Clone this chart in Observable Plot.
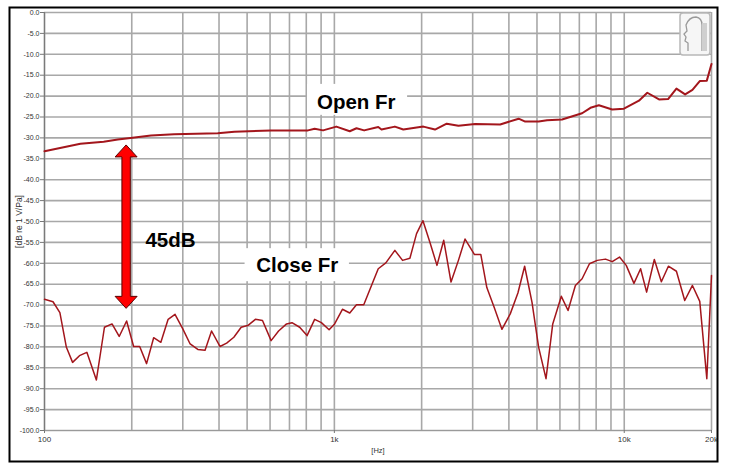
<!DOCTYPE html>
<html>
<head>
<meta charset="utf-8">
<script src="https://cdn.jsdelivr.net/npm/d3@7"></script>
<script src="https://cdn.jsdelivr.net/npm/@observablehq/plot@0.6"></script>
<style>
  html, body { margin: 0; padding: 0; background: #fff; }
  #chart { width: 731px; height: 470px; }
</style>
</head>
<body>
<div id="chart"></div>
<script>
// ---- Data ----
const openFreq = [100,133,160,179,198,233,280,396,452,605,811,855,914,1016,1130,1192,1267,1417,1454,1617,1729,2028,2224,2441,2679,3059,3733,4321,4555,5067,5416,6102,7155,7647,8176,9089,9977,11240,12010,13183,14166,15136,16220,17190,18220,19270,20000];
const openDb   = [-33.2,-31.4,-30.9,-30.4,-30.0,-29.4,-29.1,-28.9,-28.5,-28.2,-28.2,-27.8,-28.2,-27.3,-28.4,-27.7,-28.2,-27.4,-28.0,-27.3,-28.0,-27.3,-28.0,-26.6,-27.1,-26.7,-26.8,-25.4,-26.1,-26.1,-25.8,-25.6,-24.1,-22.8,-22.2,-23.2,-23.0,-21.1,-19.2,-20.8,-20.7,-18.2,-19.6,-18.5,-16.4,-16.3,-12.3];

const closeFreq = [100,107,113,119,125,132,140,151,161,171,181,192,203,213,225,238,252,267,282,300,318,338,358,377,403,425,450,477,505,534,565,605,642,684,714,759,805,855,902,959,1002,1066,1130,1192,1263,1343,1417,1505,1617,1719,1822,1921,2021,2137,2259,2384,2526,2679,2824,3044,3201,3357,3558,3784,4043,4297,4533,4805,5067,5372,5667,6067,6400,6784,7155,7586,8066,8616,9089,9632,10160,10803,11387,11946,12700,13430,14200,15136,16170,17190,18220,19270,20000];
const closeDb   = [-68.6,-69.2,-71.8,-80.1,-83.7,-82.1,-81.3,-87.9,-75.3,-74.5,-77.5,-73.8,-79.9,-79.9,-84.0,-77.8,-78.9,-73.4,-72.2,-75.7,-79.3,-80.6,-80.8,-76.2,-79.9,-79.1,-77.7,-75.3,-74.8,-73.4,-73.7,-78.5,-76.2,-74.5,-74.2,-75.3,-77.3,-73.4,-74.2,-75.9,-74.5,-71.0,-71.9,-69.9,-69.9,-65.3,-61.3,-59.9,-56.9,-59.3,-58.8,-52.9,-49.8,-55.0,-60.5,-54.5,-64.5,-59.3,-54.2,-57.9,-57.9,-65.8,-70.5,-75.8,-72.1,-67.1,-60.7,-69.3,-80.1,-87.6,-74.5,-67.9,-71.3,-65.3,-63.7,-60.1,-59.3,-59.0,-59.6,-58.5,-60.5,-64.8,-61.3,-66.9,-59.1,-64.4,-60.7,-61.9,-68.9,-65.3,-69.1,-87.6,-62.9];

// ticks and grid
const xGrid = [100,200,300,400,500,600,700,800,900,1000,2000,3000,4000,5000,6000,7000,8000,9000,10000,20000];
const xTicks = [100,1000,10000,20000];
const xTickLabels = ["100","1k","10k","20k"];
const yTicks = [0,-5,-10,-15,-20,-25,-30,-35,-40,-45,-50,-55,-60,-65,-70,-75,-80,-85,-90,-95,-100];

// annotations (data units)
const labelTexts = ["Open Fr","Close Fr","45dB"];
const labelFreq  = [1190, 745, 272];
const labelDb    = [-21.4, -60.6, -54.5];
const boxX1 = [808, 492];
const boxX2 = [1789, 1127];
const boxY1 = [-17.2, -56.5];
const boxY2 = [-24.6, -64.4];
const arrowFreq = 192;
const arrowTop = -31.8;
const arrowBottom = -70.9;

// ---- Build tables ----
const openData = openFreq.map((f, i) => ({f, db: openDb[i]}));
const closeData = closeFreq.map((f, i) => ({f, db: closeDb[i]}));
const labels = labelTexts.map((t, i) => ({t, f: labelFreq[i], db: labelDb[i]}));
const boxes = boxX1.map((x1, i) => ({x1, x2: boxX2[i], y1: boxY1[i], y2: boxY2[i]}));
const tickLabelMap = new Map(xTicks.map((t, i) => [t, xTickLabels[i]]));

const FONT = "'Liberation Sans', Arial, sans-serif";

// double arrow mark, drawn through the scales
function doubleArrow(index, scales) {
  const x = scales.x(arrowFreq);
  const y0 = scales.y(arrowTop);
  const y1 = scales.y(arrowBottom);
  const sw = 4.2, hw = 11, hl = 12;
  const pts = [
    [x, y0], [x + hw, y0 + hl], [x + sw, y0 + hl], [x + sw, y1 - hl], [x + hw, y1 - hl],
    [x, y1], [x - hw, y1 - hl], [x - sw, y1 - hl], [x - sw, y0 + hl], [x - hw, y0 + hl]
  ];
  const g = d3.create("svg:g");
  g.append("polygon")
    .attr("points", pts.map(p => p.join(",")).join(" "))
    .attr("fill", "#ff0000")
    .attr("stroke", "#5a0000")
    .attr("stroke-width", 1)
    .attr("stroke-linejoin", "miter");
  return g.node();
}

// outer frame + logo placeholder
function decorations(index, scales, values, dims) {
  const g = d3.create("svg:g");
  g.append("rect")
    .attr("x", 9.5).attr("y", 7.5)
    .attr("width", dims.width - 9.5 - 13.5)
    .attr("height", dims.height - 7.5 - 8.5)
    .attr("fill", "none").attr("stroke", "#000").attr("stroke-width", 2);
  const rx = dims.width - dims.marginRight - 31, ry = dims.marginTop + 1;
  const lg = g.append("g").attr("transform", `translate(${rx},${ry})`);
  lg.append("rect").attr("x", 0).attr("y", 0).attr("width", 30).attr("height", 42)
    .attr("rx", 3).attr("fill", "#f6f6f6").attr("stroke", "#b8b8b8").attr("stroke-width", 1.5);
  lg.append("path")
    .attr("d", "M8,38 L8,30 L5,28 L6,24 L4,21 L7,18 L6,12 Q9,4 16,4 Q22,5 22,12 L22,38")
    .attr("fill", "none").attr("stroke", "#9a9a9a").attr("stroke-width", 1.3);
  lg.append("rect").attr("x", 22).attr("y", 10).attr("width", 5).attr("height", 28)
    .attr("fill", "#cfcfcf");
  return g.node();
}

const plot = Plot.plot({
  width: 731,
  height: 470,
  marginLeft: 44,
  marginRight: 20,
  marginTop: 12,
  marginBottom: 40,
  style: { background: "#fff", fontFamily: FONT, overflow: "visible", color: "#333" },
  x: { type: "log", domain: [100, 20000] },
  y: { domain: [-100, 0] },
  marks: [
    Plot.ruleX(xGrid, { stroke: "#a8a8a8", strokeWidth: 1.6 }),
    Plot.ruleY(yTicks, { stroke: "#a8a8a8", strokeWidth: 1.6 }),
    Plot.ruleX([100], { stroke: "#7a7a7a", strokeWidth: 1.2 }),
    Plot.ruleY([-100], { stroke: "#9a9a9a", strokeWidth: 1.2 }),
    Plot.axisY({
      ticks: yTicks, tickFormat: d => d.toFixed(1), tickSize: 4, tickPadding: 1,
      fontSize: 7, stroke: "#777", fill: "#333",
      label: null
    }),
    Plot.axisX({
      ticks: xTicks, tickFormat: d => tickLabelMap.get(d), tickSize: 3, tickPadding: 3,
      fontSize: 8, stroke: "#777", fill: "#333",
      label: null
    }),
    Plot.text(["[dB re 1 V/Pa]"], {
      frameAnchor: "left", textAnchor: "middle", dx: -25, rotate: -90, text: d => d,
      fontSize: 8.5, fill: "#333", fontFamily: FONT
    }),
    Plot.text(["[Hz]"], {
      frameAnchor: "bottom", dy: 22, text: d => d,
      fontSize: 7.5, fill: "#333", fontFamily: FONT
    }),
    Plot.rect(boxes, { x1: "x1", x2: "x2", y1: "y1", y2: "y2", fill: "#fff" }),
    Plot.line(openData, { x: "f", y: "db", stroke: "#a3161c", strokeWidth: 2 }),
    Plot.line(closeData, { x: "f", y: "db", stroke: "#a3161c", strokeWidth: 1.5 }),
    doubleArrow,
    Plot.text(labels, { x: "f", y: "db", text: "t", fontSize: 20.5, fontWeight: "bold", fill: "#000", fontFamily: FONT }),
    decorations
  ]
});

document.getElementById("chart").appendChild(plot);
</script>
</body>
</html>
